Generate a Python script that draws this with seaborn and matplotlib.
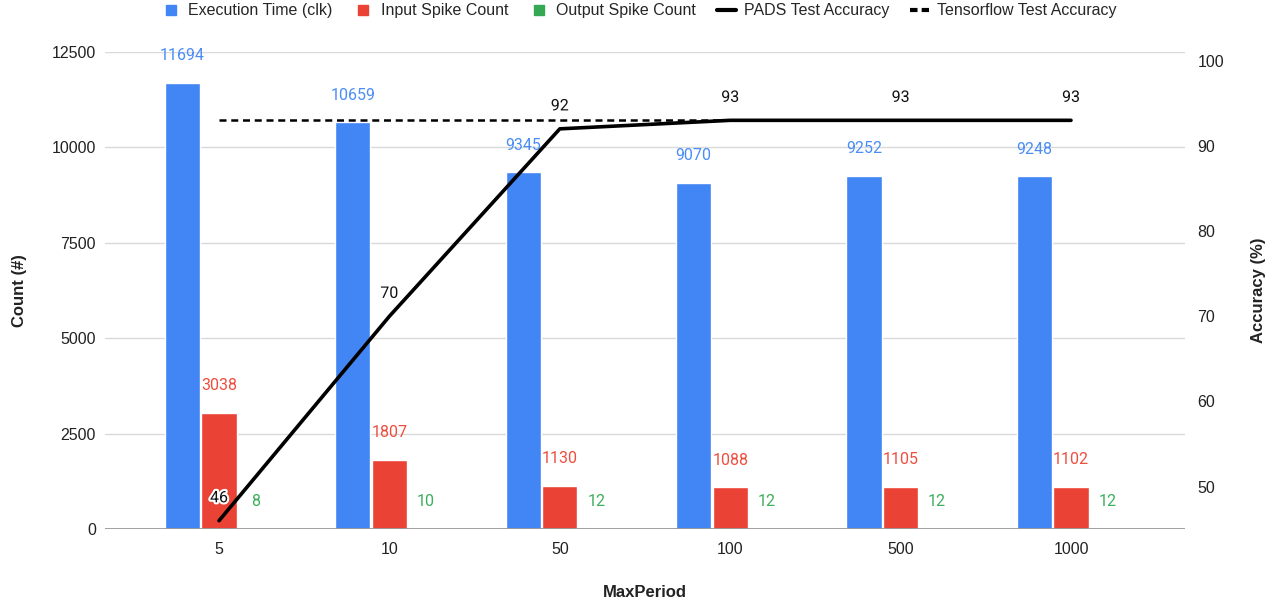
import numpy as np
import pandas as pd
import matplotlib
matplotlib.use('Agg')
import matplotlib.pyplot as plt
import matplotlib.patheffects as pe
from matplotlib.lines import Line2D
import seaborn as sns

sns.set_style("white")
plt.rcParams['font.family'] = ['Liberation Sans', 'DejaVu Sans']

# data
periods = ['5', '10', '50', '100', '500', '1000']
series = ['Execution Time (clk)', 'Input Spike Count', 'Output Spike Count']
exec_time = [11694, 10659, 9345, 9070, 9252, 9248]
input_spikes = [3038, 1807, 1130, 1088, 1105, 1102]
output_spikes = [8, 10, 12, 12, 12, 12]
pads_acc = [46, 70, 92, 93, 93, 93]
tf_acc = [93, 93, 93, 93, 93, 93]

colors = ['#4285F4', '#EA4335', '#34A853']
label_colors = ['#4A8DF6', '#EE4E40', '#3DAE5C']
data_font = ['Roboto', 'DejaVu Sans']

df = pd.DataFrame({
    'MaxPeriod': periods * 3,
    'Series': np.repeat(series, len(periods)),
    'Count': exec_time + input_spikes + output_spikes,
})

fig = plt.figure(figsize=(12.78, 6.07), dpi=100)
ax = fig.add_axes([105 / 1278, 1 - 529 / 607, 1080 / 1278, 477 / 607])

sns.barplot(data=df, x='MaxPeriod', y='Count', hue='Series', order=periods,
            hue_order=series, palette=colors, width=0.645, gap=0.04,
            saturation=1, legend=False, ax=ax, zorder=2)

ax.set_ylim(0, 12500)
ax.set_yticks([0, 2500, 5000, 7500, 10000, 12500])
ax.set_xlim(-0.669, 5.669)
ax.grid(axis='y', color='#d9d9d9', lw=1, zorder=0)
ax.axhline(0, color='#999999', lw=1.3, zorder=3)
for s in ax.spines.values():
    s.set_visible(False)
ax.tick_params(axis='both', length=0, labelsize=11.5, colors='#222222')
ax.tick_params(axis='y', pad=6.5)
ax.tick_params(axis='x', pad=9)
ax.set_xlabel('MaxPeriod', fontsize=12, fontweight='bold', color='#222222')
ax.xaxis.set_label_coords(0.5, -(585 - 529) / 477)
ax.set_ylabel('Count (#)', fontsize=12, fontweight='bold', color='#222222')
ax.yaxis.set_label_coords(-(105 - 27) / 1080, 0.5)

# bar value labels
vals = [exec_time, input_spikes, output_spikes]
for cont, v, c in zip(ax.containers, vals, label_colors):
    for bar, val in zip(cont, v):
        ax.annotate(str(val), (bar.get_x() + bar.get_width() / 2, bar.get_height()),
                    xytext=(0, 19.5), textcoords='offset points', ha='center',
                    va='center', fontsize=11.5, color=c, zorder=5,
                    family=data_font)

# accuracy on right axis
ax2 = ax.twinx()
xpos = np.arange(len(periods))
sns.lineplot(x=xpos, y=tf_acc, ax=ax2, color='black', lw=1.8,
             linestyle=(0, (2.8, 1.9)), zorder=3)
sns.lineplot(x=xpos, y=pads_acc, ax=ax2, color='black', lw=2.6, zorder=4)
ax2.set_ylim(45.03, 101.02)
ax2.set_yticks([50, 60, 70, 80, 90, 100])
for s in ax2.spines.values():
    s.set_visible(False)
ax2.tick_params(axis='y', length=0, labelsize=11.5, colors='#222222', pad=9)
ax2.set_ylabel('Accuracy (%)', fontsize=12, fontweight='bold', color='#222222')
ax2.yaxis.set_label_coords(1 + (1251 - 1185) / 1080, 0.5)
ax2.set_xlim(-0.669, 5.669)

for x, a in zip(xpos, pads_acc):
    ax2.annotate(str(a), (x, a), xytext=(0, 16.5), textcoords='offset points',
                 ha='center', va='center', fontsize=11.5, color='#111111', zorder=6,
                 family=data_font,
                 path_effects=[pe.withStroke(linewidth=3, foreground='white')])

# legend
handles = [
    Line2D([], [], marker='s', ls='', color=colors[0], markersize=6.5),
    Line2D([], [], marker='s', ls='', color=colors[1], markersize=6.5),
    Line2D([], [], marker='s', ls='', color=colors[2], markersize=6.5),
    Line2D([], [], color='black', lw=3),
    Line2D([], [], color='black', lw=3, linestyle=(0, (1.8, 1.0))),
]
labels = series + ['PADS Test Accuracy', 'Tensorflow Test Accuracy']
fig.legend(handles, labels, loc='center', bbox_to_anchor=(0.5, 1 - 11 / 607),
           ncol=5, frameon=False, fontsize=11.5, handlelength=1.2,
           handletextpad=0.5, columnspacing=1.3)

fig.savefig('out.png', dpi=100)
